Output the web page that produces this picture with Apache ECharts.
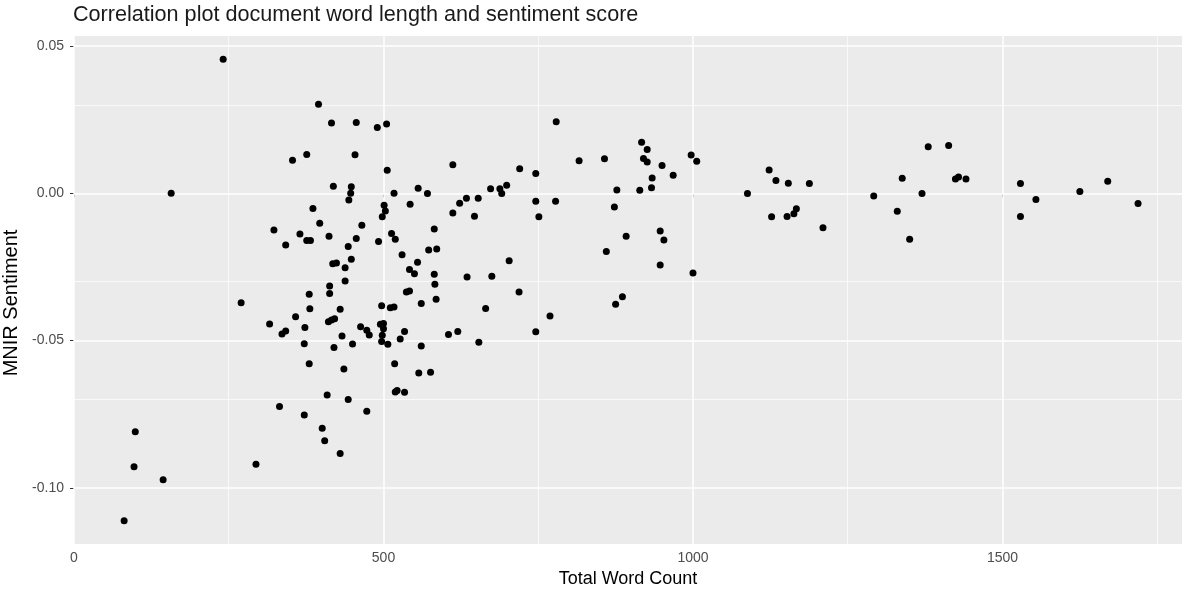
<!DOCTYPE html>
<html>
<head>
<meta charset="utf-8">
<title>Correlation plot</title>
<script src="https://cdn.jsdelivr.net/npm/echarts@6/dist/echarts.min.js"></script>
<style>
  html, body { margin: 0; padding: 0; background: #fff; }
  #chart { width: 1182px; height: 589px; }
</style>
</head>
<body>
<div id="chart"></div>
<script>
// word count / sentiment pairs
const wordCount = [
  81, 99, 97, 144, 157, 241, 270, 294, 316, 323,
  332, 336, 342, 342, 353, 358, 365, 372, 372, 373,
  376, 376, 382, 380, 381, 380, 386, 395, 397, 401,
  405, 409, 411, 416, 421, 412, 413, 413, 416, 419,
  418, 424, 420, 430, 430, 433, 436, 438, 438, 443,
  443, 444, 447, 448, 448, 450, 454, 456, 456, 463,
  465, 473, 477, 473, 490, 492, 495, 500, 500, 498,
  497, 497, 498, 501, 503, 505, 506, 507, 511, 517,
  513, 519, 517, 518, 519, 522, 534, 527, 534, 530,
  537, 542, 542, 543, 550, 555, 556, 557, 561, 561,
  571, 573, 576, 582, 582, 583, 585, 586, 605, 612,
  612, 620, 623, 634, 635, 647, 653, 654, 665, 673,
  675, 688, 691, 699, 703, 719, 720, 746, 746, 746,
  751, 769, 778, 779, 816, 857, 860, 873, 875, 877,
  886, 892, 914, 917, 920, 926, 926, 933, 934, 947,
  947, 950, 953, 968, 997, 1000, 1006, 1088, 1123, 1127,
  1134, 1152, 1154, 1163, 1167, 1188, 1210, 1292, 1330, 1338,
  1350, 1370, 1380, 1413, 1424, 1429, 1441, 1529, 1529, 1554,
  1625, 1670, 1719
];
const sentiment = [
  -0.1112, -0.0810, -0.0929, -0.0973, 0.0000, 0.0455, -0.0372, -0.0920, -0.0444, -0.0125,
  -0.0724, -0.0478, -0.0468, -0.0176, 0.0112, -0.0419, -0.0138, -0.0511, -0.0753, -0.0456,
  0.0132, -0.0160, -0.0160, -0.0343, -0.0392, -0.0579, -0.0052, 0.0302, -0.0102, -0.0798,
  -0.0840, -0.0685, -0.0436, -0.0430, -0.0426, -0.0146, -0.0315, -0.0340, 0.0239, 0.0024,
  -0.0239, -0.0237, -0.0524, -0.0394, -0.0884, -0.0485, -0.0597, -0.0253, -0.0298, -0.0181,
  -0.0700, -0.0023, 0.0000, 0.0022, -0.0224, -0.0512, 0.0131, 0.0240, -0.0154, -0.0453,
  -0.0109, -0.0465, -0.0481, -0.0740, 0.0223, -0.0164, -0.0445, -0.0442, -0.0460, -0.0482,
  -0.0503, -0.0382, -0.0080, -0.0041, -0.0060, 0.0235, 0.0078, -0.0513, -0.0389, -0.0386,
  -0.0137, -0.0156, 0.0000, -0.0579, -0.0675, -0.0670, -0.0676, -0.0495, -0.0469, -0.0209,
  -0.0335, -0.0332, -0.0259, -0.0037, -0.0273, -0.0234, 0.0017, -0.0610, -0.0374, -0.0519,
  -0.0001, -0.0193, -0.0608, -0.0121, -0.0275, -0.0309, -0.0360, -0.0189, -0.0480, 0.0097,
  -0.0067, -0.0469, -0.0034, -0.0017, -0.0284, -0.0078, -0.0017, -0.0506, -0.0391, 0.0015,
  -0.0282, 0.0015, -0.0001, 0.0027, -0.0229, -0.0335, 0.0083, 0.0067, -0.0027, -0.0470,
  -0.0080, -0.0417, -0.0027, 0.0243, 0.0110, 0.0117, -0.0198, -0.0047, -0.0377, 0.0011,
  -0.0351, -0.0146, 0.0010, 0.0173, 0.0118, 0.0149, 0.0106, 0.0019, 0.0052, -0.0128,
  -0.0244, 0.0094, -0.0159, 0.0061, 0.0130, -0.0271, 0.0109, -0.0001, 0.0079, -0.0080,
  0.0043, -0.0079, 0.0034, -0.0070, -0.0053, 0.0033, -0.0117, -0.0009, -0.0061, 0.0051,
  -0.0156, -0.0001, 0.0158, 0.0162, 0.0048, 0.0055, 0.0048, 0.0033, -0.0079, -0.0021,
  0.0006, 0.0041, -0.0035
];
const xTicks = [0, 500, 1000, 1500];
const xMinor = [250, 750, 1250, 1750];
const yTicks = [-0.10, -0.05, 0.00, 0.05];
const yMinor = [-0.075, -0.025, 0.025];

const font = 'Liberation Sans, Arial, Helvetica, sans-serif';

let points = [];
wordCount.forEach((w, i) => {
  points.push([w, sentiment[i]]);
});

// ggplot style grid lines, major white thick, minor thin
let gridLines = [];
xTicks.forEach(v => gridLines.push({xAxis: v, lineStyle: {width: 1.5}}));
xMinor.forEach(v => gridLines.push({xAxis: v, lineStyle: {width: 0.7}}));
yTicks.forEach(v => gridLines.push({yAxis: v, lineStyle: {width: 1.5}}));
yMinor.forEach(v => gridLines.push({yAxis: v, lineStyle: {width: 0.7}}));

let chart = echarts.init(document.getElementById('chart'));
const option = {
  animation: false,
  title: {
    text: 'Correlation plot document word length and sentiment score',
    left: 73,
    top: 4,
    padding: 0,
    textStyle: {
      fontFamily: font,
      fontSize: 21.6,
      fontWeight: 'normal',
      color: '#1a1a1a'
    }
  },
  grid: {
    left: 74,
    right: 0,
    top: 36,
    bottom: 45,
    outerBoundsMode: 'none',
    show: true,
    backgroundColor: '#EBEBEB',
    borderWidth: 0
  },
  xAxis: {
    type: 'value',
    min: 0,
    max: 1790,
    name: 'Total Word Count',
    nameLocation: 'middle',
    nameGap: 22,
    nameTextStyle: {fontFamily: font, fontSize: 18, color: '#000'},
    axisLine: {show: false},
    splitLine: {show: false},
    axisTick: {
      show: true,
      length: 4,
      customValues: xTicks,
      lineStyle: {color: '#333', width: 1}
    },
    axisLabel: {
      customValues: xTicks,
      margin: 7,
      fontFamily: font,
      fontSize: 14,
      color: '#4D4D4D',
      formatter: v => String(v)
    }
  },
  yAxis: {
    type: 'value',
    min: -0.1191,
    max: 0.0534,
    name: 'MNIR Sentiment',
    nameLocation: 'middle',
    nameGap: 48,
    nameTextStyle: {
      fontFamily: font,
      fontSize: 20,
      color: '#000',
      padding: [0, 26, 0, 0]
    },
    axisLine: {show: false},
    splitLine: {show: false},
    axisTick: {
      show: true,
      length: 4,
      customValues: yTicks,
      lineStyle: {color: '#333', width: 1}
    },
    axisLabel: {
      customValues: yTicks,
      margin: 10,
      fontFamily: font,
      fontSize: 14,
      color: '#4D4D4D',
      formatter: v => v.toFixed(2)
    }
  },
  series: [
    {
      type: 'scatter',
      data: [],
      z: 1,
      markLine: {
        silent: true,
        z: 1,
        symbol: 'none',
        label: {show: false},
        lineStyle: {color: '#fff', type: 'solid'},
        data: gridLines
      }
    },
    {
      type: 'scatter',
      data: points,
      z: 3,
      symbol: 'circle',
      symbolSize: 7,
      itemStyle: {color: '#000', opacity: 1}
    }
  ]
};
chart.setOption(option);
window.addEventListener('resize', () => {
  chart.resize();
});
</script>
</body>
</html>
